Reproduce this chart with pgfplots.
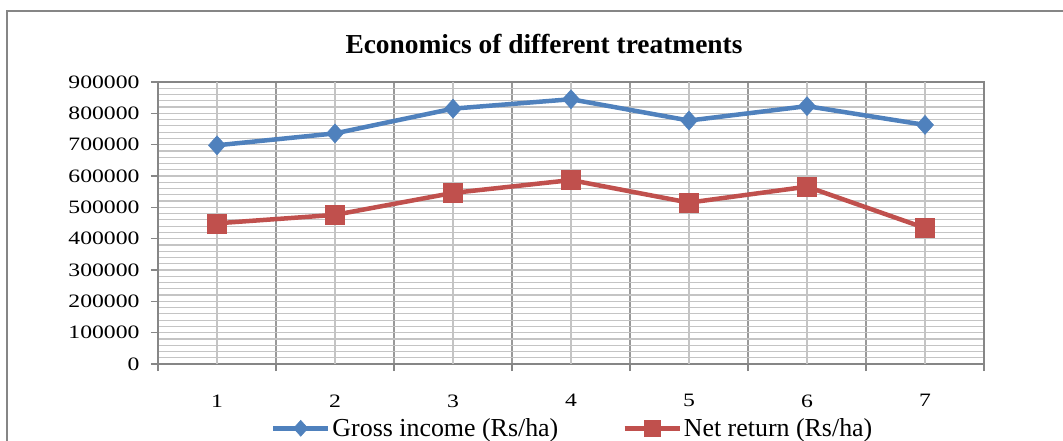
\documentclass[border=0pt]{standalone}
\usepackage{pgfplots}
\pgfplotsset{compat=1.18}
\usepackage{graphicx}
\usetikzlibrary{calc}
\usepackage{fontspec}
\setmainfont{Liberation Serif}
\definecolor{gblue}{HTML}{4F81BD}
\definecolor{nred}{HTML}{C0504D}
\definecolor{gridc}{HTML}{C4C4C4}
\definecolor{gridd}{HTML}{999999}
\definecolor{axisc}{HTML}{868686}
\newcommand{\wx}[1]{\scalebox{1.25}[1]{#1}}
\begin{document}
\begin{tikzpicture}
\begin{axis}[
  name=ax,
  scale only axis, width=826bp, height=282bp,
  xmin=0.5, xmax=7.5, ymin=0, ymax=900000,
  xtick={0.5,1.5,2.5,3.5,4.5,5.5,6.5,7.5}, xticklabels={},
  extra x ticks={1,2,3,4,5,6,7},
  extra x tick labels={\wx{1},\wx{2},\wx{3},\wx{4},\wx{5},\wx{6},\wx{7}},
  extra x tick style={grid=major, major x grid style={gridc, line width=1.2bp}, major tick length=0pt},
  ytick={0,100000,...,900000},
  minor y tick num=4,
  minor tick length=0pt,
  major tick length=7bp,
  tick align=outside,
  tick pos=left,
  xmajorgrids, ymajorgrids, yminorgrids,
  major x grid style={gridd, line width=1.2bp},
  major y grid style={gridc, line width=1.2bp},
  minor y grid style={gridc, line width=1.2bp},
  axis line style={axisc, line width=1.2bp},
  tick style={axisc, line width=1.2bp},
  scaled y ticks=false,
  yticklabel={\wx{\pgfmathprintnumber[fixed,1000 sep={}]{\tick}}},
  /pgf/number format/assume math mode=true,
  yticklabel style={font=\fontsize{19}{22}\selectfont, xshift=-8bp},
  xticklabel style={font=\fontsize{19}{22}\selectfont, yshift=-27bp},
  legend style={at={(0.502,-0.228)}, anchor=center, draw=none, fill=none,
    legend columns=2, font=\fontsize{26}{30}\selectfont,
    /tikz/every even column/.append style={column sep=62bp}},
  legend image code/.code={
    \draw[#1, mark=none] (0bp,0bp) -- (55bp,0bp);
    \draw[#1, mark size=8bp] plot coordinates {(27.5bp,0bp)};
  },
]
\addplot[gblue, line width=4.5bp, mark=diamond*, mark size=9.5bp, mark options={solid, fill=gblue, draw=gblue, line width=0.5bp, xscale=1.2}]
  coordinates {(1,698000)(2,736000)(3,815000)(4,845000)(5,777000)(6,823000)(7,763000)};
\addlegendentry{Gross income (Rs/ha)}
\addplot[nred, line width=4.5bp, mark=square*, mark size=9.5bp, mark options={solid, fill=nred, draw=nred, line width=0.5bp}]
  coordinates {(1,449000)(2,476000)(3,546000)(4,587000)(5,515000)(6,566000)(7,434000)};
\addlegendentry{Net return (Rs/ha)}
\end{axis}
\pgfresetboundingbox
\coordinate (O) at ($(ax.south west)+(-158bp,-77bp)$);
\path[use as bounding box] (O) rectangle ($(O)+(1063bp,441bp)$);
\draw[axisc, line width=1.5bp] ($(O)+(7bp,-20bp)$) rectangle ($(O)+(1081bp,430bp)$);
\node[font=\fontsize{27.5}{32}\selectfont\bfseries] at ($(O)+(544bp,397bp)$) {Economics of different treatments};
\end{tikzpicture}
\end{document}
